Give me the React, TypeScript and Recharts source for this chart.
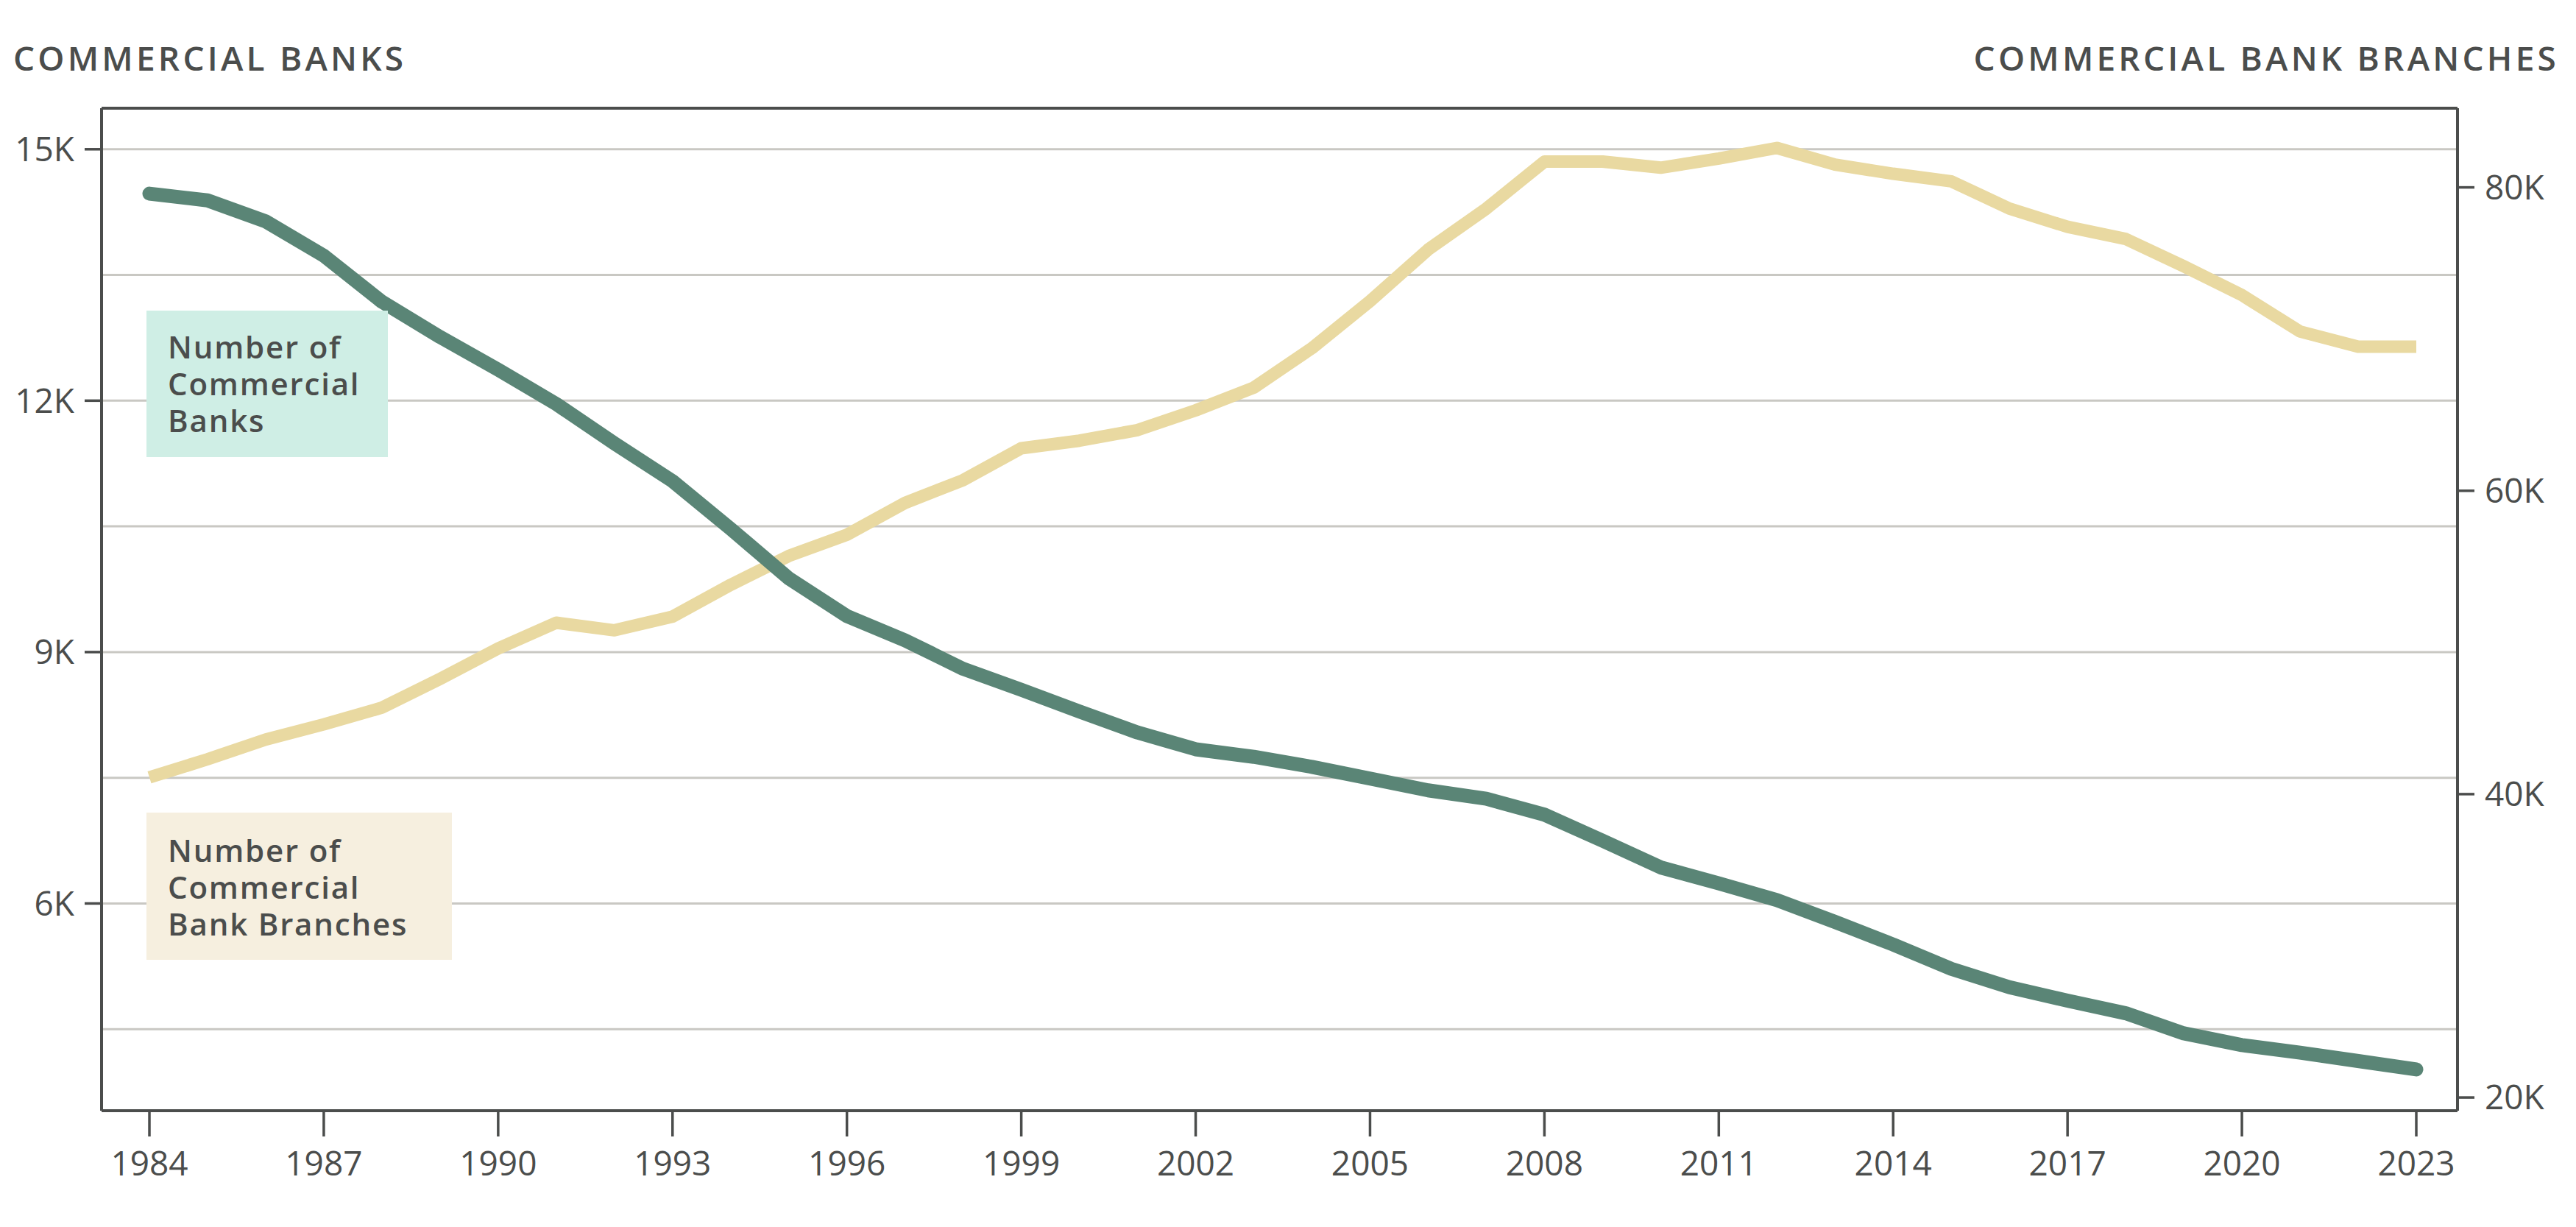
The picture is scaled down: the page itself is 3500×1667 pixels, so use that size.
import * as React from 'react';
import {
  LineChart,
  Line,
  XAxis,
  YAxis,
  CartesianGrid,
  ReferenceLine
} from 'recharts';

const years = [
  1984, 1985, 1986, 1987, 1988, 1989, 1990, 1991, 1992, 1993,
  1994, 1995, 1996, 1997, 1998, 1999, 2000, 2001, 2002, 2003,
  2004, 2005, 2006, 2007, 2008, 2009, 2010, 2011, 2012, 2013,
  2014, 2015, 2016, 2017, 2018, 2019, 2020, 2021, 2022, 2023
];

const banks = [
  14470, 14390, 14140, 13730, 13180, 12760, 12370, 11960, 11490, 11040,
  10470, 9880, 9430, 9140, 8800, 8550, 8290, 8040, 7840, 7750,
  7630, 7490, 7350, 7250, 7060, 6750, 6430, 6240, 6040, 5780,
  5510, 5220, 5000, 4840, 4690, 4450, 4310, 4220, 4120, 4020
];

const branches = [
  41100, 42300, 43600, 44600, 45700, 47600, 49600, 51300, 50800, 51700,
  53800, 55700, 57100, 59200, 60700, 62800, 63300, 64000, 65300, 66800,
  69400, 72500, 75900, 78600, 81700, 81700, 81300, 81900, 82600, 81500,
  80900, 80400, 78600, 77400, 76600, 74800, 72900, 70500, 69500, 69500
];

const yearTicks = [1984, 1987, 1990, 1993, 1996, 1999, 2002, 2005, 2008, 2011, 2014, 2017, 2020, 2023];
const bankTicks = [6000, 9000, 12000, 15000];
const branchTicks = [20000, 40000, 60000, 80000];
const gridValues = [4500, 6000, 7500, 9000, 10500, 12000, 13500, 15000];

const data = years.map((year, i) => ({ year, banks: banks[i], branches: branches[i] }));

const ink = '#4b4d4c';
const font = '"Open Sans", sans-serif';
const kFormat = (v: number): string => `${v / 1000}K`;

const titleStyle: React.CSSProperties = {
  position: 'absolute',
  top: 50,
  fontSize: 46,
  fontWeight: 600,
  lineHeight: '56px',
  letterSpacing: '4.2px',
  whiteSpace: 'nowrap'
};

const boxStyle: React.CSSProperties = {
  position: 'absolute',
  left: 199,
  boxSizing: 'border-box',
  paddingLeft: 29,
  fontSize: 42,
  fontWeight: 600,
  lineHeight: '50px',
  letterSpacing: '1.8px',
  whiteSpace: 'nowrap'
};

export default function App(): React.ReactElement {
  return (
    <div
      style={{
        position: 'absolute',
        left: 0,
        top: 0,
        width: 3500,
        height: 1667,
        background: '#fff',
        fontFamily: font,
        color: ink
      }}
    >
      <div style={{ ...titleStyle, left: 18 }}>COMMERCIAL BANKS</div>
      <div style={{ ...titleStyle, right: 23 }}>COMMERCIAL BANK BRANCHES</div>
      <LineChart
        width={3500}
        height={1667}
        data={data}
        margin={{ top: 147, right: 21, bottom: 38, left: 18 }}
      >
        <CartesianGrid
          yAxisId="left"
          vertical={false}
          horizontalValues={gridValues}
          stroke="#c9c8c3"
          strokeWidth={3}
        />
        <XAxis
          dataKey="year"
          type="number"
          domain={[1984, 2023]}
          ticks={yearTicks}
          padding={{ left: 65, right: 56 }}
          height={120}
          tickSize={35}
          tickMargin={20}
          axisLine={{ stroke: ink, strokeWidth: 4 }}
          tickLine={{ stroke: ink, strokeWidth: 3.5 }}
          tick={{ fill: ink, fontSize: 46, fontFamily: font }}
        />
        <YAxis
          yAxisId="left"
          orientation="left"
          domain={[3527, 15490]}
          ticks={bankTicks}
          width={120}
          tickSize={23}
          tickMargin={14}
          axisLine={{ stroke: ink, strokeWidth: 4 }}
          tickLine={{ stroke: ink, strokeWidth: 3.5 }}
          tick={{ fill: ink, fontSize: 46, fontFamily: font }}
          tickFormatter={kFormat}
        />
        <YAxis
          yAxisId="right"
          orientation="right"
          domain={[19130, 85220]}
          ticks={branchTicks}
          width={140}
          tickSize={23}
          tickMargin={14}
          axisLine={{ stroke: ink, strokeWidth: 4 }}
          tickLine={{ stroke: ink, strokeWidth: 3.5 }}
          tick={{ fill: ink, fontSize: 46, fontFamily: font }}
          tickFormatter={kFormat}
        />
        <ReferenceLine yAxisId="left" y={15490} stroke={ink} strokeWidth={4} />
        <Line
          yAxisId="right"
          dataKey="branches"
          stroke="#e9d9a1"
          strokeWidth={17}
          strokeLinejoin="round"
          dot={false}
          activeDot={false}
          isAnimationActive={false}
        />
        <Line
          yAxisId="left"
          dataKey="banks"
          stroke="#5a8576"
          strokeWidth={19}
          strokeLinecap="round"
          strokeLinejoin="round"
          dot={false}
          activeDot={false}
          isAnimationActive={false}
        />
      </LineChart>
      <div style={{ ...boxStyle, top: 422, width: 328, height: 199, paddingTop: 24, background: '#cfeee5' }}>
        Number of
        <br />
        Commercial
        <br />
        Banks
      </div>
      <div style={{ ...boxStyle, top: 1104, width: 415, height: 200, paddingTop: 26, background: '#f6efdf' }}>
        Number of
        <br />
        Commercial
        <br />
        Bank Branches
      </div>
    </div>
  );
}
